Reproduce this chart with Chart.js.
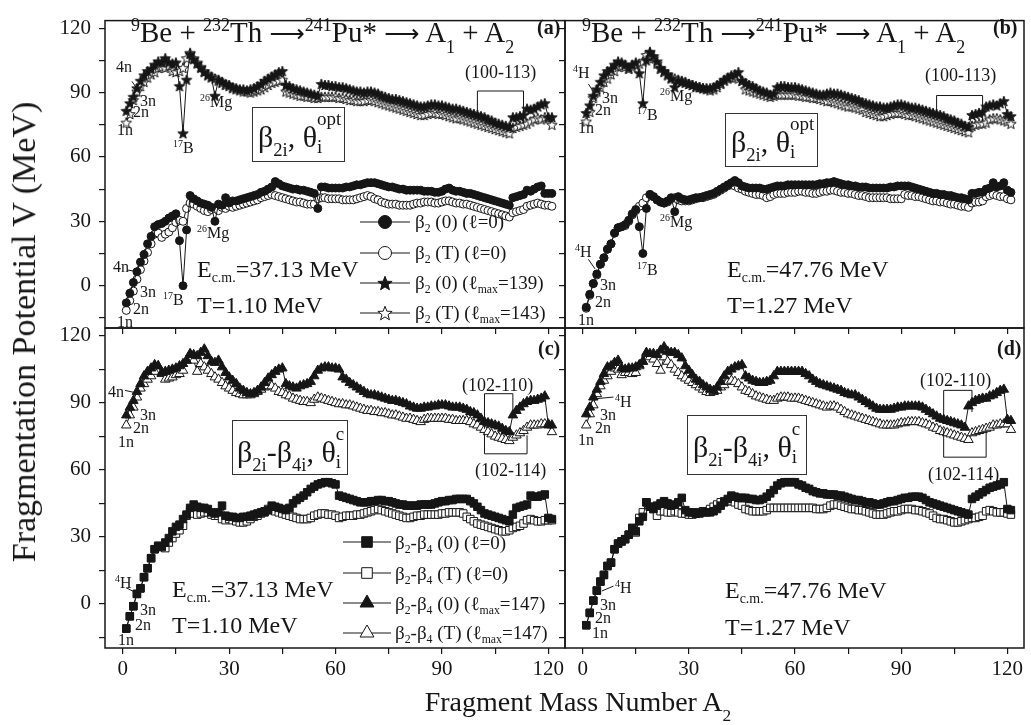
<!DOCTYPE html>
<html>
<head>
<meta charset="utf-8">
<title>Fragmentation potential</title>
<script src="https://cdn.jsdelivr.net/npm/chart.js@4.4.0/dist/chart.umd.min.js"></script>
<style>
  body { margin: 0; background: #fff; }
  #wrap { position: relative; width: 1031px; height: 725px; overflow: hidden; background: #fff;
          font-family: "Liberation Serif", "Times New Roman", serif; color: #161616; }
  #wrap canvas { position: absolute; left: 0; top: 0; }
  .t { position: absolute; white-space: nowrap; line-height: 1; }
  .u { font-size: .62em; position: relative; top: -.62em; }
  .d { font-size: .62em; position: relative; top: .35em; }
  .dd { font-size: .62em; position: relative; top: .6em; }
  .arr { font-family: "DejaVu Sans", sans-serif; font-size: .85em; }
  .ttl { font-size: 29px; }
  .tag { font-size: 20px; font-weight: bold; }
  .lab { font-size: 16px; }
  .br { font-size: 18px; }
  .leg { font-size: 19px; }
  .ecm { font-size: 24px; }
  .box { position: absolute; border: 1px solid #333; box-sizing: border-box; }
  .bx { font-size: 30px; }
  .bx .d { top: .5em; }
  .st { display: inline-block; position: relative; font-size: 19px; line-height: 1; top: .3em; }
  .st .op { position: absolute; left: 0; top: -1.45em; }
</style>
</head>
<body>
<div id="wrap">
  <canvas id="pa" width="1031" height="725"></canvas>
  <canvas id="pb" width="1031" height="725"></canvas>
  <canvas id="pc" width="1031" height="725"></canvas>
  <canvas id="pd" width="1031" height="725"></canvas>

  <!-- axis titles -->
  <div class="t" style="left:24px;top:332px;font-size:34px;transform:translate(-50%,-50%) rotate(-90deg)">Fragmentation Potential V (MeV)</div>
  <div class="t" style="left:578px;top:702px;font-size:28px;transform:translate(-50%,-50%)">Fragment Mass Number A<span class="dd">2</span></div>

  <!-- panel (a) -->
  <div class="t ttl" style="left:131px;top:18px"><span class="u">9</span>Be + <span class="u">232</span>Th <span class="arr">⟶</span><span class="u">241</span>Pu* <span class="arr">⟶</span> A<span class="dd">1</span> + A<span class="dd">2</span></div>
  <div class="t tag" style="left:537px;top:17px">(a)</div>
  <div class="box" style="left:252px;top:107px;width:93px;height:55px"><div class="t bx" style="left:5px;top:14px">β<span class="d">2i</span>, θ<span class="st">i<span class="op">opt</span></span></div></div>
  <div class="t ecm" style="left:197px;top:257px">E<span class="d" style="font-size:.58em">c.m.</span>=37.13 MeV</div>
  <div class="t ecm" style="left:197px;top:293px">T=1.10 MeV</div>
  <div class="t leg" style="left:415px;top:212px">β<span class="d">2</span> (0) (ℓ=0)</div>
  <div class="t leg" style="left:415px;top:243px">β<span class="d">2</span> (T) (ℓ=0)</div>
  <div class="t leg" style="left:415px;top:273px">β<span class="d">2</span> (0) (ℓ<span class="d">max</span>=139)</div>
  <div class="t leg" style="left:415px;top:303px">β<span class="d">2</span> (T) (ℓ<span class="d">max</span>=143)</div>
  <div class="t br" style="left:465px;top:63px">(100-113)</div>
  <div class="t lab" style="left:116px;top:59px">4n</div>
  <div class="t lab" style="left:140px;top:93px">3n</div>
  <div class="t lab" style="left:133px;top:104px">2n</div>
  <div class="t lab" style="left:117px;top:122px">1n</div>
  <div class="t lab" style="left:173px;top:140px"><span class="u">17</span>B</div>
  <div class="t lab" style="left:200px;top:94px"><span class="u">26</span>Mg</div>
  <div class="t lab" style="left:113px;top:259px">4n</div>
  <div class="t lab" style="left:140px;top:284px">3n</div>
  <div class="t lab" style="left:133px;top:301px">2n</div>
  <div class="t lab" style="left:117px;top:314px">1n</div>
  <div class="t lab" style="left:163px;top:292px"><span class="u">17</span>B</div>
  <div class="t lab" style="left:197px;top:225px"><span class="u">26</span>Mg</div>

  <!-- panel (b) -->
  <div class="t ttl" style="left:582px;top:18px"><span class="u">9</span>Be + <span class="u">232</span>Th <span class="arr">⟶</span><span class="u">241</span>Pu* <span class="arr">⟶</span> A<span class="dd">1</span> + A<span class="dd">2</span></div>
  <div class="t tag" style="left:993px;top:17px">(b)</div>
  <div class="box" style="left:725px;top:113px;width:93px;height:54px"><div class="t bx" style="left:5px;top:13px">β<span class="d">2i</span>, θ<span class="st">i<span class="op">opt</span></span></div></div>
  <div class="t ecm" style="left:727px;top:257px">E<span class="d" style="font-size:.58em">c.m.</span>=47.76 MeV</div>
  <div class="t ecm" style="left:727px;top:293px">T=1.27 MeV</div>
  <div class="t br" style="left:925px;top:66px">(100-113)</div>
  <div class="t lab" style="left:573px;top:65px"><span class="u">4</span>H</div>
  <div class="t lab" style="left:602px;top:90px">3n</div>
  <div class="t lab" style="left:595px;top:102px">2n</div>
  <div class="t lab" style="left:578px;top:120px">1n</div>
  <div class="t lab" style="left:637px;top:107px"><span class="u">17</span>B</div>
  <div class="t lab" style="left:660px;top:88px"><span class="u">26</span>Mg</div>
  <div class="t lab" style="left:575px;top:244px"><span class="u">4</span>H</div>
  <div class="t lab" style="left:600px;top:277px">3n</div>
  <div class="t lab" style="left:595px;top:294px">2n</div>
  <div class="t lab" style="left:578px;top:312px">1n</div>
  <div class="t lab" style="left:637px;top:262px"><span class="u">17</span>B</div>
  <div class="t lab" style="left:660px;top:214px"><span class="u">26</span>Mg</div>

  <!-- panel (c) -->
  <div class="t tag" style="left:538px;top:338px">(c)</div>
  <div class="box" style="left:232px;top:420px;width:116px;height:55px"><div class="t bx" style="left:4px;top:16px">β<span class="d">2i</span>-β<span class="d">4i</span>, θ<span class="st">i<span class="op">c</span></span></div></div>
  <div class="t ecm" style="left:172px;top:577px">E<span class="d" style="font-size:.58em">c.m.</span>=37.13 MeV</div>
  <div class="t ecm" style="left:172px;top:613px">T=1.10 MeV</div>
  <div class="t leg" style="left:395px;top:533px">β<span class="d">2</span>-β<span class="d">4</span> (0) (ℓ=0)</div>
  <div class="t leg" style="left:395px;top:564px">β<span class="d">2</span>-β<span class="d">4</span> (T) (ℓ=0)</div>
  <div class="t leg" style="left:395px;top:594px">β<span class="d">2</span>-β<span class="d">4</span> (0) (ℓ<span class="d">max</span>=147)</div>
  <div class="t leg" style="left:395px;top:623px">β<span class="d">2</span>-β<span class="d">4</span> (T) (ℓ<span class="d">max</span>=147)</div>
  <div class="t br" style="left:462px;top:376px">(102-110)</div>
  <div class="t br" style="left:475px;top:461px">(102-114)</div>
  <div class="t lab" style="left:108px;top:384px">4n</div>
  <div class="t lab" style="left:140px;top:407px">3n</div>
  <div class="t lab" style="left:133px;top:420px">2n</div>
  <div class="t lab" style="left:118px;top:434px">1n</div>
  <div class="t lab" style="left:115px;top:575px"><span class="u">4</span>H</div>
  <div class="t lab" style="left:140px;top:602px">3n</div>
  <div class="t lab" style="left:135px;top:617px">2n</div>
  <div class="t lab" style="left:118px;top:632px">1n</div>

  <!-- panel (d) -->
  <div class="t tag" style="left:997px;top:338px">(d)</div>
  <div class="box" style="left:687px;top:415px;width:120px;height:60px"><div class="t bx" style="left:5px;top:16px">β<span class="d">2i</span>-β<span class="d">4i</span>, θ<span class="st">i<span class="op">c</span></span></div></div>
  <div class="t ecm" style="left:725px;top:578px">E<span class="d" style="font-size:.58em">c.m.</span>=47.76 MeV</div>
  <div class="t ecm" style="left:725px;top:615px">T=1.27 MeV</div>
  <div class="t br" style="left:920px;top:371px">(102-110)</div>
  <div class="t br" style="left:928px;top:465px">(102-114)</div>
  <div class="t lab" style="left:615px;top:394px"><span class="u">4</span>H</div>
  <div class="t lab" style="left:600px;top:407px">3n</div>
  <div class="t lab" style="left:595px;top:420px">2n</div>
  <div class="t lab" style="left:578px;top:432px">1n</div>
  <div class="t lab" style="left:615px;top:580px"><span class="u">4</span>H</div>
  <div class="t lab" style="left:600px;top:597px">3n</div>
  <div class="t lab" style="left:595px;top:610px">2n</div>
  <div class="t lab" style="left:592px;top:625px">1n</div>
</div>

<script>
// fragment mass number A2 (x positions of every series)
const massA2 = Array.from({ length: 121 }, (_, i) => i + 1);

// ---- panel (a): beta2, theta_opt, Ecm = 37.13 MeV ----
const panelA_circleFilled = [
  -8, -3.5, 1.5, 6.5, 11, 14.5, 19.5, 23, 27.5, 28.5,
  29, 30, 31.5, 32.5, 33.5, 21, 0, 26, 42, 40.5,
  39.5, 38.5, 38, 37.5, 36.5, 30, 38, 37.5, 41, 38.5,
  39.5, 39.5, 40, 40.5, 41, 41.5, 42, 42.5, 43.5, 44,
  45, 46, 48.5, 47.5, 46.5, 46, 45.5, 45, 45, 44.5,
  44.5, 44, 43.5, 43, 36, 46, 46, 45.5, 45.5, 45.5,
  45.5, 45.5, 46, 46, 46.5, 47, 47, 47.5, 48, 48,
  48, 47.5, 47, 46.5, 46, 46, 45.5, 45, 45, 44.5,
  44.5, 44.5, 44.5, 44.5, 44, 44, 44, 43.5, 43.5, 44,
  45, 45.5, 44.5, 44, 44, 43.5, 43, 43, 42.5, 42,
  41.5, 41, 40.5, 40, 39.5, 39, 38.5, 38, 37.5, 41,
  41.5, 42, 42.5, 44.5, 44, 45, 46, 46.5, 43, 43, 43];
const panelA_circleOpen = [
  -11.5, -7, -2.5, 3, 7.5, 11.5, 15.5, 19.5, 24, 24.5,
  22.5, 24, 25, 27, 29.5, 30.5, 30, 36, 38.5, 38,
  37, 36, 35, 34.5, 35.5, 36, 35, 36.5, 36, 37,
  36.5, 37, 37.5, 38, 38.5, 39, 39.5, 40, 41, 41.5,
  42, 42.5, 42, 41.5, 41, 40.5, 40, 39.5, 39, 39,
  38.5, 38, 38, 38, 40.5, 41, 41, 40.5, 40.5, 40.5,
  40.5, 40, 40, 40, 40, 40.5, 41, 41.5, 42, 41.5,
  40.5, 40, 39, 38.5, 38, 38, 38, 37.5, 37.5, 37.5,
  37.5, 38, 38.5, 38.5, 39, 39, 39, 38.5, 38.5, 39,
  39.5, 39.5, 39, 38.5, 38.5, 38, 38, 37.5, 37, 36.5,
  36, 35.5, 35, 34.5, 34, 33.5, 33, 32.5, 32, 34,
  34.5, 35, 35.5, 37, 37.5, 38, 38.5, 38, 37.5, 37.5, 37];
const panelA_starFilled = [
  81.5, 85, 88, 92, 95.5, 98, 100, 101, 103, 104.5,
  104, 106, 104, 103.5, 104, 93, 71, 96, 108, 105.5,
  103.5, 101.5, 99.5, 98, 97, 88.5, 96, 95, 94, 93.5,
  92.5, 92, 91.5, 91.5, 91, 91.5, 92, 93, 94, 95.5,
  96.5, 97.5, 98.5, 99.5, 100, 93.5, 93, 92, 91.5, 91,
  90.5, 90, 89.5, 89, 88.5, 94, 93.5, 93.5, 93, 93,
  92.5, 92.5, 92, 91.5, 91, 90.5, 90.5, 90, 90.5, 90.5,
  90, 89.5, 88.5, 88, 87.5, 87, 87, 86.5, 86, 85.5,
  85, 84.5, 84, 83.5, 83.5, 84, 84.5, 84.5, 84, 84,
  83.5, 83, 82.5, 82.5, 82, 81.5, 81, 80.5, 80, 79.5,
  79, 78.5, 77.5, 77, 76, 75.5, 75, 74.5, 74, 78.5,
  78.5, 79, 79.5, 82.5, 82, 82.5, 83.5, 84.5, 85, 78.5, 78.5];
const panelA_starOpen = [
  76, 80, 86.5, 90.5, 93, 95, 97, 98.5, 99.5, 101.5,
  102, 101.5, 102.5, 100, 99.5, 100, 101.5, 106, 108.5, 106,
  104, 102, 100, 98.5, 97.5, 96.5, 95.5, 94.5, 93.5, 93,
  92, 91.5, 91, 90.5, 90.5, 90, 90.5, 91, 91.5, 92.5,
  93.5, 94.5, 95, 95.5, 96, 90.5, 90, 89.5, 89, 88.5,
  88.5, 88, 88, 87.5, 87.5, 88, 88, 88, 88, 88,
  87.5, 87.5, 87, 86.5, 86.5, 86, 86, 86, 86.5, 86.5,
  86, 85.5, 85, 84.5, 84, 83.5, 83, 82.5, 82, 81.5,
  81, 80.5, 80, 79.5, 79.5, 80, 80.5, 80.5, 80, 80,
  79.5, 79, 78.5, 78, 78, 77.5, 77, 76.5, 76, 75.5,
  75, 74.5, 74, 73.5, 73, 72.5, 72, 71.5, 71, 73.5,
  74, 74.5, 75, 75.5, 76.5, 77.5, 78, 77.5, 78.5, 78, 75];

// ---- panel (b): beta2, theta_opt, Ecm = 47.76 MeV ----
const panelB_starFilled = [
  80.5, 84, 88.5, 91.5, 95, 98, 100, 101, 103, 104.5,
  104, 103, 101.5, 103, 104, 99, 85, 105, 109, 107,
  104.5, 101.5, 100, 98.5, 96.5, 92.5, 95.5, 95, 94.5, 94,
  93.5, 93, 92.5, 92, 92, 92, 92.5, 93.5, 94.5, 96,
  97, 98, 98.5, 99.5, 95.5, 94.5, 93.5, 93, 92, 91,
  90.5, 90, 89, 89.5, 92.5, 93, 93, 92.5, 92.5, 92.5,
  92, 91.5, 91, 90.5, 90, 89.5, 89, 89, 89.5, 90,
  89.5, 89.5, 89, 88.5, 88, 87.5, 87, 86.5, 85.5, 85,
  84.5, 84, 83.5, 83.5, 83, 83, 83.5, 84, 84.5, 84.5,
  84, 83.5, 83, 83, 82.5, 82, 81.5, 81, 80.5, 80,
  79.5, 79, 78, 77.5, 77, 76, 75.5, 74.5, 74, 79.5,
  80, 80.5, 81, 83.5, 84, 84.5, 84, 85, 86, 80, 79];
const panelB_starOpen = [
  76.5, 81, 87.5, 90.5, 92.5, 95, 96.5, 98.5, 100, 102,
  102.5, 102, 101, 102, 103, 103.5, 104.5, 107.5, 108.5, 106,
  103.5, 101, 99.5, 98, 97, 96.5, 96, 95.5, 95, 94,
  93.5, 92.5, 92.5, 92, 91.5, 91, 91.5, 92.5, 94, 95.5,
  96.5, 97, 97, 96.5, 95.5, 91.5, 91, 90.5, 90, 89.5,
  89, 88.5, 88, 88.5, 89, 89, 89, 89, 89, 89,
  88.5, 88.5, 88, 88, 87.5, 87.5, 87, 86.5, 86, 86,
  85.5, 85, 84.5, 84, 83.5, 83.5, 83, 82.5, 82, 81,
  80.5, 80, 79.5, 79, 79, 79.5, 80, 80.5, 80.5, 80.5,
  80, 79.5, 79.5, 79, 78.5, 78, 77.5, 77, 76.5, 76,
  75.5, 75, 74.5, 74, 73.5, 73, 72.5, 72, 71.5, 74.5,
  75, 75.5, 75.5, 76, 77.5, 78, 78, 77.5, 77, 76.5, 75.5];
const panelB_circleFilled = [
  -10, -4, 1, 5.5, 10, 13, 17, 19.5, 24.5, 27,
  27.5, 28.5, 30.5, 33.5, 35.5, 27.5, 15, 36, 42.5, 41.5,
  40, 39, 38.5, 39.5, 41, 34.5, 41.5, 40.5, 40, 40,
  40.5, 41, 41, 41.5, 42, 42.5, 43, 44, 45, 46,
  47, 48, 49, 48, 46.5, 46, 45.5, 45.5, 45.5, 45.5,
  45, 45, 45.5, 46, 46.5, 46.5, 46.5, 47, 47, 47,
  47, 47, 47, 47, 47, 47, 47.5, 47.5, 48, 48,
  48.5, 48, 47.5, 47, 47, 46.5, 46.5, 46, 46, 46,
  45.5, 45.5, 45.5, 45.5, 45.5, 45.5, 46, 46, 46.5, 46.5,
  46.5, 46.5, 46, 45.5, 45, 44.5, 44, 43.5, 43, 43,
  42.5, 42.5, 42, 42, 41.5, 41, 41, 40.5, 40, 43,
  43, 43.5, 43.5, 45, 45.5, 48, 46, 46.5, 48, 44.5, 43.5];
const panelB_circleOpen = [
  -10.5, -4.5, 1, 5, 10, 13, 17, 19.5, 24.5, 27,
  27.5, 28, 30, 33, 35, 37, 38.5, 41, 42.5, 41.5,
  40, 39, 38.5, 39, 40.5, 41, 40, 39.5, 39.5, 39.5,
  40, 40.5, 41, 41, 41.5, 42, 42.5, 43.5, 44.5, 45.5,
  46.5, 47, 46.5, 45.5, 45, 44, 43.5, 43, 42.5, 42.5,
  42, 41, 41.5, 42.5, 43, 43, 43, 43.5, 43.5, 43.5,
  44, 44, 43.5, 43.5, 43, 43, 43.5, 44, 44, 44.5,
  44.5, 44, 43.5, 43.5, 43, 43, 42.5, 42, 42, 41.5,
  41, 41, 41, 41, 41, 41, 40.5, 40.5, 40.5, 40.5,
  42.5, 42, 42, 41.5, 41.5, 41, 40.5, 40, 39.5, 39.5,
  39, 39, 38.5, 38, 38, 37.5, 37, 37, 36.5, 38.5,
  39, 39, 39.5, 41.5, 42, 42.5, 42, 41.5, 41.5, 40.5, 40];

// ---- panel (c): beta2-beta4, theta_c, Ecm = 37.13 MeV ----
const panelC_triFilled = [
  84.5, 88, 91, 95, 98.5, 102, 104, 105.5, 107, 106.5,
  103.5, 104, 104.5, 105, 105.5, 106.5, 107.5, 109, 112, 111.5,
  111, 112.5, 114, 111, 108.5, 108, 109, 106, 103.5, 101.5,
  100, 98.5, 96.5, 95.5, 94.5, 94, 94.5, 95.5, 97, 99,
  101, 102.5, 104, 105, 105.5, 98.5, 97.5, 97, 96.5, 97.5,
  98, 98.5, 99.5, 102, 104.5, 105.5, 106, 106, 105.5, 105.5,
  105, 101.5, 100.5, 99, 98, 97, 96, 95, 94, 93.5,
  93.5, 93, 92.5, 92, 91.5, 91, 91, 90.5, 90, 89.5,
  88.5, 88, 87.5, 87.5, 88, 88, 88.5, 88.5, 89, 89,
  89, 88.5, 88, 88, 88, 87.5, 87, 86, 85.5, 84.5,
  83, 81.5, 81, 80.5, 80, 79.5, 78.5, 77.5, 77, 84.5,
  86.5, 88, 89.5, 90.5, 91, 91, 91.5, 92, 93, 80, 80];
const panelC_triOpen = [
  80, 84.5, 88, 92.5, 96.5, 98.5, 100.5, 102, 104, 106.5,
  103, 100.5, 101, 101.5, 102.5, 103, 104.5, 109, 111.5, 109,
  104, 107.5, 106, 104.5, 103, 101.5, 100.5, 99, 97.5, 96.5,
  95.5, 94.5, 94, 93.5, 93.5, 93.5, 94, 95, 96, 97,
  97.5, 97.5, 96.5, 95, 94.5, 93.5, 93, 92, 91.5, 91,
  90.5, 90.5, 90, 91.5, 92.5, 92, 91.5, 91, 90.5, 90,
  89.5, 89.5, 89, 89, 88.5, 88, 87.5, 87, 86.5, 86.5,
  86, 86, 85.5, 85.5, 85, 84.5, 84.5, 84, 83.5, 83,
  83, 82.5, 82, 81.5, 82.5, 83, 83, 83, 83, 83,
  83, 82.5, 82.5, 82, 82, 82, 82, 81.5, 80.5, 80,
  79, 78, 77, 76, 75, 74.5, 74, 73.5, 73, 74.5,
  75.5, 76.5, 77.5, 79, 80, 80, 80, 80.5, 80.5, 80.5, 77];
const panelC_sqFilled = [
  -11, -5.5, -1, 4.5, 7, 12, 16, 20.5, 24.5, 26,
  25.5, 27.5, 29.5, 32.5, 34.5, 35.5, 38, 40, 43, 44.5,
  43.5, 43, 43, 42.5, 41, 40.5, 41, 44, 39.5, 39,
  39, 38.5, 38.5, 39, 39, 39.5, 40, 40.5, 41, 41,
  42, 44, 43.5, 43, 42.5, 42, 43, 45, 46.5, 47.5,
  48.5, 50, 51.5, 52.5, 53.5, 54, 54.5, 54.5, 54, 53.5,
  48.5, 48, 47.5, 47, 46.5, 46, 45.5, 45.5, 45.5, 46,
  46, 46.5, 46.5, 46, 46, 45.5, 45, 44.5, 44.5, 44,
  44, 44, 44, 44.5, 44.5, 44.5, 44.5, 45, 45.5, 46,
  46, 46.5, 46.5, 47, 47, 47, 47, 46, 45, 43.5,
  42, 40.5, 40, 39.5, 39, 38.5, 38, 37.5, 37, 40,
  43, 43.5, 44, 44.5, 48.5, 48, 48, 48.5, 49, 38.5, 38];
const panelC_sqOpen = [
  -11, -5.5, -1, 4.5, 7, 12, 16, 20.5, 24.5, 26,
  25.5, 25, 27.5, 29.5, 31.5, 33, 35, 39.5, 41.5, 40.5,
  40, 40.5, 41, 41, 40, 39.5, 39.5, 38, 37.5, 38,
  37.5, 37, 36.5, 36.5, 37, 38, 39, 39.5, 40.5, 41.5,
  42.5, 42, 41.5, 41, 40.5, 40, 39.5, 39, 38.5, 38,
  38, 38, 38.5, 39.5, 40, 40.5, 40.5, 40, 40, 39.5,
  38.5, 39, 39.5, 39.5, 39.5, 40, 40, 40.5, 41, 41.5,
  42, 42.5, 42, 41.5, 41, 40.5, 40, 39.5, 39, 38.5,
  38.5, 39, 39.5, 39.5, 40, 40, 40, 40, 40, 40.5,
  40.5, 41, 41, 41, 41, 40.5, 39, 38, 37, 36,
  35.5, 35, 34.5, 34, 33.5, 33, 32.5, 32.5, 33, 34,
  34.5, 35, 36, 37.5, 38, 37.5, 37, 37, 37.5, 37.5, 37.5];

// ---- panel (d): beta2-beta4, theta_c, Ecm = 47.76 MeV ----
const panelD_triFilled = [
  85, 88, 92.5, 96, 99.5, 103, 106, 106.5, 108, 109,
  105.5, 105, 105.5, 105.5, 106, 107, 108.5, 112.5, 112, 112,
  111.5, 113.5, 115, 113, 112.5, 112.5, 111.5, 110, 106.5, 104.5,
  102.5, 100.5, 99.5, 98, 97, 96, 95.5, 97, 99.5, 102,
  104, 105, 106, 106.5, 107, 102, 101, 100, 99.5, 99,
  99, 99.5, 100, 102, 104, 104, 104, 104, 104, 104,
  104, 104, 103, 102, 100.5, 99.5, 98.5, 98, 97.5, 97,
  96.5, 96, 95.5, 94.5, 94, 93.5, 93.5, 92.5, 91.5, 90.5,
  89.5, 88.5, 87.5, 87, 87, 87, 87, 87.5, 88, 88,
  88.5, 88.5, 88.5, 88.5, 88.5, 88, 87, 86, 85, 84,
  83, 82.5, 82, 81.5, 81, 80.5, 80, 79, 88.5, 90,
  91, 91.5, 92, 92, 93, 93.5, 94.5, 95.5, 96, 82.5, 82];
const panelD_triOpen = [
  80, 85, 89, 94, 97.5, 100, 102, 104, 105.5, 105,
  102.5, 103.5, 103.5, 103, 103.5, 106.5, 108.5, 112, 110.5, 109.5,
  107.5, 104.5, 110.5, 108.5, 107, 105, 103.5, 102, 101, 100,
  99, 98, 97, 96, 95, 94.5, 95, 95.5, 97, 98,
  99.5, 100, 99.5, 98.5, 97, 95.5, 95, 94, 93, 92.5,
  92, 91.5, 91, 91, 92, 92.5, 92.5, 92.5, 92, 92,
  92, 91.5, 91, 90.5, 90, 89.5, 89, 88.5, 88, 88.5,
  88.5, 88, 87, 86, 85, 84.5, 84, 83.5, 83, 82.5,
  82, 81.5, 81, 80.5, 80, 80, 80, 80, 80.5, 81,
  81, 81.5, 81.5, 81.5, 81.5, 81, 80.5, 80, 79, 78.5,
  77.5, 77, 76.5, 76, 75.5, 75, 74.5, 74, 73.5, 76.5,
  77, 77.5, 78, 78.5, 79, 80, 80, 80.5, 80.5, 80.5, 78];
const panelD_sqFilled = [
  -9.5, -4, 1.5, 6, 10, 13, 17, 18.5, 24.5, 27,
  28, 29, 31, 34, 32.5, 37, 39, 45.5, 43.5, 42.5,
  44, 45, 46, 45, 44, 44.5, 45.5, 47.5, 42, 41,
  41, 40.5, 40.5, 41, 41, 41, 41.5, 42.5, 44, 45.5,
  47, 48.5, 48, 47.5, 47.5, 47.5, 47, 47, 46.5, 46.5,
  47, 48, 49.5, 51, 53, 54, 54.5, 54.5, 54.5, 54.5,
  53.5, 53, 52, 51.5, 50.5, 50, 49.5, 49.5, 49, 49,
  49, 48.5, 48.5, 48, 47.5, 47, 46.5, 46.5, 46, 45.5,
  45.5, 45, 44.5, 44.5, 45, 45.5, 46, 46, 46.5, 47,
  47.5, 47.5, 48, 48, 48, 47.5, 46.5, 45.5, 45, 44.5,
  44, 43.5, 43, 42.5, 42, 41.5, 41, 40.5, 40, 47,
  48, 49, 50, 51, 52, 52.5, 53, 53.5, 54.5, 42.5, 42];
const panelD_sqOpen = [
  -9.5, -4, 1.5, 6, 10, 13, 17, 18.5, 24.5, 27,
  28, 29, 31, 34, 32, 38.5, 41, 45.5, 43.5, 42.5,
  39.5, 41.5, 41.5, 41, 41, 41.5, 41, 40.5, 40.5, 40,
  40, 40.5, 41, 41.5, 41.5, 42.5, 43.5, 44.5, 45.5, 46,
  46, 46, 45.5, 44.5, 44, 42.5, 42, 41.5, 41.5, 41.5,
  41.5, 42, 43, 43, 43, 43, 43, 43, 43, 43,
  43, 43, 43, 43, 43, 42.5, 42.5, 42.5, 43, 44,
  44.5, 44.5, 44, 43.5, 43, 42.5, 42.5, 42, 42, 41.5,
  41, 40.5, 40, 40, 40, 40.5, 41, 41.5, 41.5, 42,
  42.5, 42.5, 42.5, 42, 42, 41.5, 41, 40.5, 39.5, 38.5,
  38, 38, 37.5, 37, 36.5, 36.5, 37, 37.5, 38, 38.5,
  38.5, 39, 39.5, 41.5, 42, 41.5, 41, 41, 41, 40.5, 40];

const FONT = '"Liberation Serif", "Times New Roman", serif';
const INK = '#161616';
Chart.defaults.font.family = FONT;

// five-pointed star bitmaps for the star markers
function starImage(filled, R) {
  const size = Math.ceil(R * 2 + 3);
  const c = document.createElement('canvas');
  c.width = c.height = size;
  const g = c.getContext('2d');
  const cx = size / 2, cy = size / 2 + R * 0.1;
  g.beginPath();
  for (let k = 0; k < 10; k++) {
    const r = k % 2 ? R * 0.42 : R;
    const ang = -Math.PI / 2 + k * Math.PI / 5;
    g.lineTo(cx + r * Math.cos(ang), cy + r * Math.sin(ang));
  }
  g.closePath();
  g.fillStyle = filled ? INK : '#fff';
  g.fill();
  g.strokeStyle = INK;
  g.lineWidth = 1;
  g.stroke();
  return c;
}
const starFilled = starImage(true, 5.5), starOpen = starImage(false, 5.5);
const starFilledBig = starImage(true, 7.5), starOpenBig = starImage(false, 7.5);

function series(label, values, style, filled, radius) {
  return {
    label,
    data: values.map((v, i) => ({ x: massA2[i], y: v })),
    showLine: true,
    borderColor: INK,
    borderWidth: 1,
    pointStyle: style,
    pointRadius: radius,
    pointHoverRadius: radius,
    pointBackgroundColor: filled ? INK : '#fff',
    pointBorderColor: INK,
    pointBorderWidth: 1
  };
}

// brackets, leader lines and legend samples for each panel
const panelMarks = {
  pa: {
    lines: [
      [[100, 81], [100, 90.7], [113, 90.7], [113, 75.5]],
      [[2.6, 95.2], [4, 91.8]],
      [[1.3, 7.3], [4.1, 6.6]]
    ],
    samples: [
      { x: 385, y: 222, w: 25, ds: 2, r: 6.5 },
      { x: 385, y: 253, w: 25, ds: 3, r: 6.5 },
      { x: 385, y: 283, w: 25, img: starFilledBig },
      { x: 385, y: 313, w: 25, img: starOpenBig }
    ]
  },
  pb: {
    lines: [
      [[100, 79.6], [100, 88.6], [113, 88.6], [113, 76.6]],
      [[1.6, 94], [3, 90.5]],
      [[1.6, 12.3], [3.5, 7.8]]
    ],
    samples: []
  },
  pc: {
    lines: [
      [[102, 78.4], [102, 94.1], [110, 94.1], [110, 84.4]],
      [[102, 76.3], [102, 67.2], [114, 67.2], [114, 75.5]],
      [[0.6, 95.6], [3.4, 94.6]],
      [[0.9, 7.3], [3.8, 5]]
    ],
    samples: [
      { x: 367, y: 542, w: 24, ds: 2, r: 7.5 },
      { x: 367, y: 573, w: 24, ds: 3, r: 7.5 },
      { x: 367, y: 603, w: 24, ds: 0, r: 8 },
      { x: 367, y: 633, w: 24, ds: 1, r: 8 }
    ]
  },
  pd: {
    lines: [
      [[102, 81.4], [102, 95.6], [110, 95.6], [110, 85.9]],
      [[102, 78.4], [102, 65.7], [114, 65.7], [114, 76.9]],
      [[8.7, 92.6], [4, 91.9]],
      [[8.7, 8], [5.4, 5.8]]
    ],
    samples: []
  }
};

const marksPlugin = {
  id: 'marks',
  afterDatasetsDraw(chart) {
    const m = panelMarks[chart.canvas.id];
    const { ctx, chartArea: a, scales: { x, y } } = chart;
    ctx.save();
    ctx.strokeStyle = INK;
    ctx.lineWidth = 1;
    m.lines.forEach(seg => {
      ctx.beginPath();
      seg.forEach(([A, V], i) => {
        const px = x.getPixelForValue(A), py = y.getPixelForValue(V);
        if (i) ctx.lineTo(px, py); else ctx.moveTo(px, py);
      });
      ctx.stroke();
    });
    m.samples.forEach(s => {
      ctx.strokeStyle = INK;
      ctx.lineWidth = 1;
      ctx.beginPath();
      ctx.moveTo(s.x - s.w, s.y);
      ctx.lineTo(s.x + s.w, s.y);
      ctx.stroke();
      if (s.img) {
        ctx.drawImage(s.img, s.x - s.img.width / 2, s.y - s.img.height / 2);
      } else {
        const ds = chart.data.datasets[s.ds];
        ctx.fillStyle = ds.pointBackgroundColor;
        Chart.helpers.drawPoint(ctx, { pointStyle: ds.pointStyle, radius: s.r, rotation: 0, borderWidth: 1 }, s.x, s.y);
      }
    });
    ctx.lineWidth = 1.5;
    ctx.strokeRect(a.left, a.top, a.right - a.left, a.bottom - a.top);
    ctx.restore();
  }
};

function makePanel(id, box, datasets, showX, showY) {
  return new Chart(document.getElementById(id), {
    type: 'scatter',
    data: { datasets },
    options: {
      responsive: false,
      animation: false,
      events: [],
      layout: {
        autoPadding: false,
        padding: { left: box.l - 50, top: box.t, right: 1031 - box.r, bottom: 725 - box.b - 40 }
      },
      plugins: { legend: { display: false }, tooltip: { enabled: false } },
      scales: {
        x: {
          type: 'linear', min: -5, max: 124.7,
          afterFit: s => { s.height = 40; },
          border: { display: false },
          grid: { drawOnChartArea: false, tickLength: 6, color: INK, lineWidth: 1.2 },
          ticks: {
            stepSize: 15, includeBounds: false, autoSkip: false, maxRotation: 0, padding: 3,
            color: INK, font: { family: FONT, size: 21 },
            callback: v => (showX && v % 30 === 0 ? String(v) : '')
          }
        },
        y: {
          type: 'linear', min: -19.7, max: 123.5,
          afterFit: s => { s.width = 50; },
          border: { display: false },
          grid: { drawOnChartArea: false, tickLength: 6, color: INK, lineWidth: 1.2 },
          ticks: {
            stepSize: 15, includeBounds: false, autoSkip: false, padding: 8,
            color: INK, font: { family: FONT, size: 21 },
            callback: v => (showY && v % 30 === 0 ? String(v) : '')
          }
        }
      }
    },
    plugins: [marksPlugin]
  });
}

makePanel('pa', { l: 105, t: 9, r: 565, b: 328 }, [
  series('β2 (0) (ℓmax=139)', panelA_starFilled, starFilled, true, 5),
  series('β2 (T) (ℓmax=143)', panelA_starOpen, starOpen, false, 5),
  series('β2 (0) (ℓ=0)', panelA_circleFilled, 'circle', true, 4),
  series('β2 (T) (ℓ=0)', panelA_circleOpen, 'circle', false, 4)
], false, true);

makePanel('pb', { l: 565, t: 9, r: 1024, b: 328 }, [
  series('β2 (0) (ℓmax)', panelB_starFilled, starFilled, true, 5),
  series('β2 (T) (ℓmax)', panelB_starOpen, starOpen, false, 5),
  series('β2 (0) (ℓ=0)', panelB_circleFilled, 'circle', true, 4),
  series('β2 (T) (ℓ=0)', panelB_circleOpen, 'circle', false, 4)
], false, false);

makePanel('pc', { l: 105, t: 328, r: 565, b: 648 }, [
  series('β2-β4 (0) (ℓmax=147)', panelC_triFilled, 'triangle', true, 5.5),
  series('β2-β4 (T) (ℓmax=147)', panelC_triOpen, 'triangle', false, 5.5),
  series('β2-β4 (0) (ℓ=0)', panelC_sqFilled, 'rect', true, 5.3),
  series('β2-β4 (T) (ℓ=0)', panelC_sqOpen, 'rect', false, 5.3)
], true, true);

makePanel('pd', { l: 565, t: 328, r: 1024, b: 648 }, [
  series('β2-β4 (0) (ℓmax)', panelD_triFilled, 'triangle', true, 5.5),
  series('β2-β4 (T) (ℓmax)', panelD_triOpen, 'triangle', false, 5.5),
  series('β2-β4 (0) (ℓ=0)', panelD_sqFilled, 'rect', true, 5.3),
  series('β2-β4 (T) (ℓ=0)', panelD_sqOpen, 'rect', false, 5.3)
], true, false);
</script>
</body>
</html>
